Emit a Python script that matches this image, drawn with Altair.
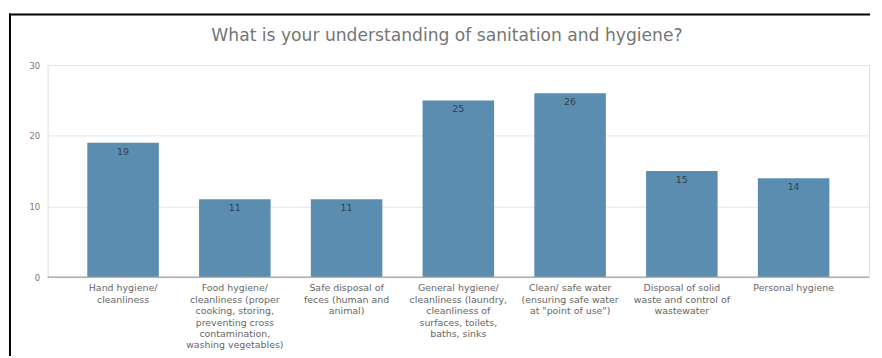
import altair as alt
import pandas as pd

categories = [
    "Hand hygiene/|cleanliness",
    "Food hygiene/|cleanliness (proper|cooking, storing,|preventing cross|contamination,|washing vegetables)",
    "Safe disposal of|feces (human and|animal)",
    "General hygiene/|cleanliness (laundry,|cleanliness of|surfaces, toilets,|baths, sinks",
    "Clean/ safe water|(ensuring safe water|at \"point of use\")",
    "Disposal of solid|waste and control of|wastewater",
    "Personal hygiene",
]
counts = [19, 11, 11, 25, 26, 15, 14]
title_text = ["What is your understanding of sanitation and hygiene?"]

df = pd.DataFrame({"cat": categories, "count": counts})
tdf = pd.DataFrame({"t": title_text})

FONT = "DejaVu Sans"

x = alt.X(
    "cat:N",
    sort=None,
    title=None,
    scale=alt.Scale(paddingInner=0.36, paddingOuter=0.355),
    axis=alt.Axis(
        labelAngle=0,
        labelExpr="split(datum.label, '|')",
        labelFontSize=9.5,
        labelColor="#666666",
        labelLineHeight=11.5,
        labelLimit=300,
        labelPadding=6,
        ticks=False,
        domain=False,
        grid=False,
        labelFont=FONT,
    ),
)
y = alt.Y(
    "count:Q",
    title=None,
    scale=alt.Scale(domain=[0, 30]),
    axis=alt.Axis(
        values=[0, 10, 20, 30],
        labelFontSize=8.5,
        labelColor="#777777",
        labelPadding=8,
        ticks=False,
        domain=False,
        gridColor="#e6e6e6",
        labelFont=FONT,
    ),
)

base = alt.Chart(tdf)
bars = alt.Chart(df).mark_bar(color="#5a8db0").encode(x=x, y=y)
labels = alt.Chart(df).mark_text(dy=9, fontSize=9.5, color="#2f3f4f", font=FONT).encode(
    x=x, y=y, text="count:Q"
)
baseline = base.mark_rule(color="#a0a0a0", strokeWidth=1.5).encode(
    y=alt.datum(0), x=alt.value(0), x2=alt.value(829)
)
frame_top = base.mark_rule(color="#000000", strokeWidth=2).encode(
    x=alt.value(-39), x2=alt.value(830), y=alt.value(-51)
)
frame_left = base.mark_rule(color="#000000", strokeWidth=2).encode(
    x=alt.value(-38), y=alt.value(-52), y2=alt.value(300)
)
title = base.mark_text(
    fontSize=17.3, color="#757575", font=FONT, baseline="middle", align="center"
).encode(text="t:N", x=alt.value(403), y=alt.value(-29))

chart = (
    alt.layer(bars, labels, baseline, frame_top, frame_left, title)
    .properties(
        width=829,
        height=214,
        autosize=alt.AutoSizeParams(type="none"),
        padding={"left": 40, "top": 56, "right": 5, "bottom": 78},
    )
    .configure_view(stroke="transparent", strokeWidth=0)
    .configure(background="white")
)

chart.save("out.html", embed_options={"renderer": "svg", "actions": False})
